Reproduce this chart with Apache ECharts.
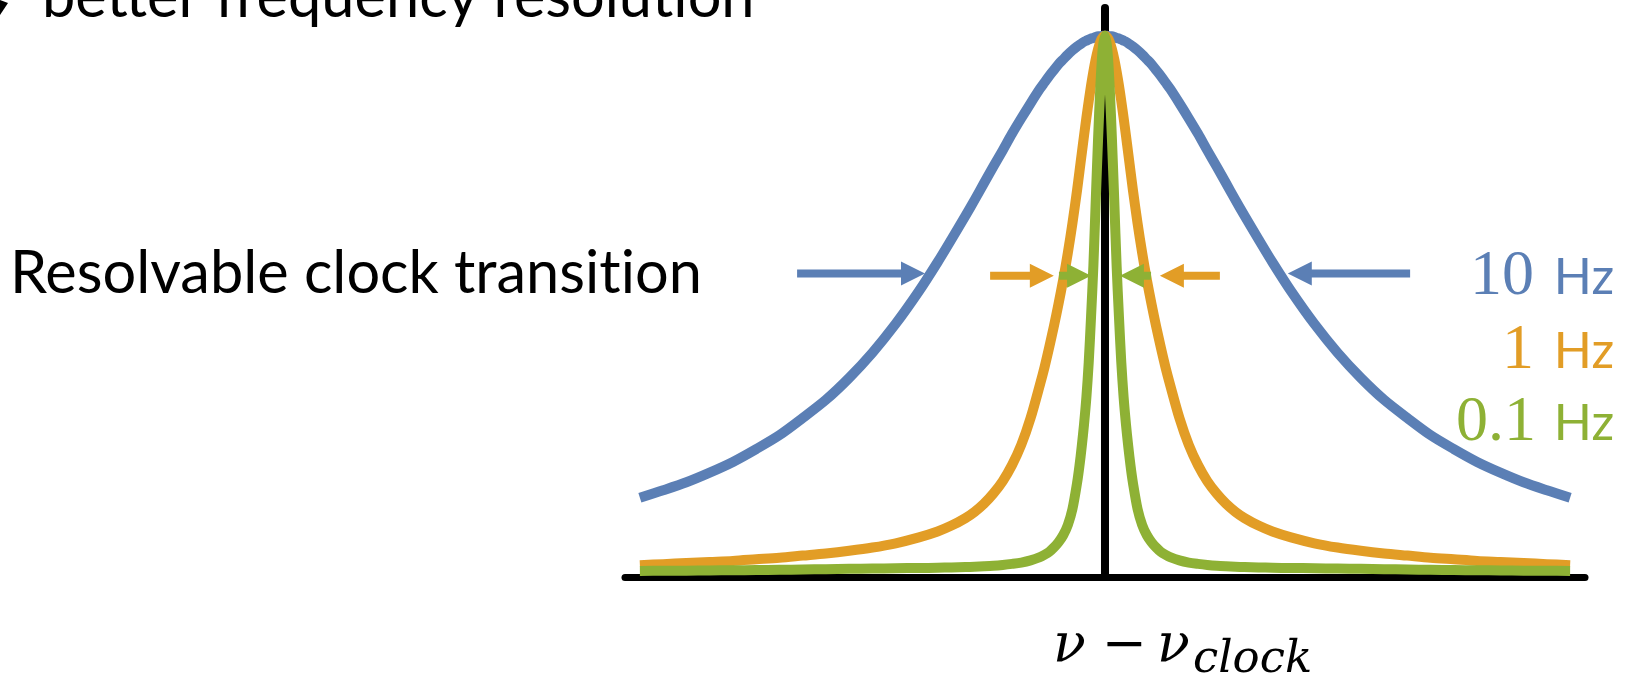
<!DOCTYPE html>
<html>
<head>
<meta charset="utf-8">
<script src="https://cdn.jsdelivr.net/npm/echarts@6/dist/echarts.min.js"></script>
<style>
  html, body { margin: 0; padding: 0; background: #ffffff; }
  #chart { width: 1631px; height: 675px; }
</style>
</head>
<body>
<div id="chart"></div>
<script>
// Half-profile offsets from the clock frequency (arbitrary units, mirrored to both sides)
const offsets = [0, 0.5, 1, 1.5, 2, 2.5, 3, 3.5, 4, 4.5, 5, 5.5, 6, 7, 8, 9, 10, 11, 12, 13, 14, 16, 18, 20, 22, 24, 26, 28, 30, 33, 36, 40, 45, 50, 55, 60, 65, 70, 75, 80, 85, 90, 95, 100];

// Line-shape heights (peak = 100)
const blue10Hz = [100, 100, 99.9, 99.9, 99.8, 99.6, 99.5, 99.3, 99.1, 98.9, 98.6, 98.3, 98.0, 97.3, 96.5, 95.6, 94.7, 93.6, 92.5, 91.3, 90.1, 87.4, 84.6, 81.7, 78.6, 75.6, 72.5, 69.4, 66.4, 62.0, 57.7, 52.3, 46.2, 40.8, 36.1, 32.0, 28.6, 25.4, 22.8, 20.4, 18.4, 16.6, 15.1, 13.7];
const orange1Hz = [100, 99.7, 98.9, 97.5, 95.6, 93.3, 90.7, 87.8, 84.7, 81.4, 78.0, 74.6, 71.2, 65.0, 59.4, 54.4, 49.9, 45.7, 41.8, 38.1, 34.8, 28.6, 23.6, 19.8, 16.8, 14.5, 12.6, 11.1, 9.9, 8.5, 7.4, 6.3, 5.2, 4.4, 3.8, 3.3, 2.9, 2.5, 2.2, 1.9, 1.7, 1.5, 1.3, 1.1];
const green01Hz = [100, 97.5, 90.5, 80.5, 69, 57, 47.5, 39, 32.5, 27.5, 23.3, 19.6, 16.5, 11.6, 8.6, 6.7, 5.4, 4.4, 3.6, 3.05, 2.6, 2.0, 1.6, 1.35, 1.15, 1.0, 0.9, 0.82, 0.75, 0.68, 0.63, 0.58, 0.54, 0.48, 0.42, 0.36, 0.3, 0.25, 0.2, 0.16, 0.12, 0.09, 0.06, 0.04];

// Arrows marking the resolvable width: [tail, tip, height, colour index]
const arrows = [
  [-66.2, -38.7, 55.6, 0],
  [65.6, 39.3, 55.6, 0],
  [-24.7, -11.0, 55.2, 1],
  [24.7, 11.8, 55.2, 1],
  [-9.9, -3.0, 55.2, 2],
  [9.9, 3.2, 55.2, 2]
];

const seriesNames = ['10 Hz', '1 Hz', '0.1 Hz'];
const colors = ['#5B7FB5', '#E29D26', '#8EB135'];

function mirror(vals) {
  const pts = [];
  for (let i = offsets.length - 1; i > 0; i--) pts.push([-offsets[i], vals[i]]);
  for (let i = 0; i < offsets.length; i++) pts.push([offsets[i], vals[i]]);
  return pts;
}

const chart = echarts.init(document.getElementById('chart'), null, { renderer: 'canvas' });

const lineSeries = [blue10Hz, orange1Hz, green01Hz].map((vals, i) => ({
  name: seriesNames[i],
  type: 'line',
  data: mirror(vals),
  smooth: 0.3,
  showSymbol: false,
  symbol: 'none',
  z: 3 + i,
  lineStyle: { color: colors[i], width: 10, cap: 'butt', join: 'round' },
  silent: true
}));

const arrowSeries = {
  type: 'custom',
  z: 10,
  silent: true,
  clip: false,
  data: arrows,
  renderItem: function (params, api) {
    const p0 = api.coord([api.value(0), api.value(2)]);
    const p1 = api.coord([api.value(1), api.value(2)]);
    const dir = p1[0] > p0[0] ? 1 : -1;
    const headLen = 24, headHalf = 12, shaftHalf = 4;
    const y = p0[1];
    const hx = p1[0] - dir * headLen;
    return {
      type: 'polygon',
      shape: { points: [
        [p0[0], y - shaftHalf], [hx, y - shaftHalf], [hx, y - headHalf],
        [p1[0], y], [hx, y + headHalf], [hx, y + shaftHalf], [p0[0], y + shaftHalf]
      ] },
      style: { fill: colors[api.value(3)] }
    };
  }
};

const ZWNJ = '\u200C';

const option = {
  animation: false,
  backgroundColor: '#ffffff',
  grid: { left: 625, right: 46, top: 8, bottom: 98 },
  xAxis: {
    type: 'value',
    min: -103.2,
    max: 103.2,
    axisLine: { show: true, onZero: false, lineStyle: { color: '#000000', width: 7 } },
    axisTick: { show: false },
    axisLabel: { show: false },
    splitLine: { show: false }
  },
  yAxis: {
    type: 'value',
    min: -1.1,
    max: 105.2,
    axisLine: { show: true, onZero: true, lineStyle: { color: '#000000', width: 8 } },
    axisTick: { show: false },
    axisLabel: { show: false },
    splitLine: { show: false }
  },
  series: lineSeries.concat([arrowSeries]),
  graphic: [
    { type: 'polygon', shape: { points: [[0, 0], [8, 3], [0, 15]] }, style: { fill: '#000' } },
    { type: 'text', x: 42, y: -2, style: { text: 'better frequency resolut' + ZWNJ + 'ion', font: '59.5px Lato', fill: '#000', verticalAlign: 'middle', align: 'left' } },
    { type: 'text', x: 10, y: 274, style: { text: 'Resolvable clock transit' + ZWNJ + 'ion', font: '59.5px Lato', fill: '#000', verticalAlign: 'middle', align: 'left' } },

    { type: 'text', x: 1534, y: 277, style: { text: '10', font: '64px "Liberation Serif"', fill: colors[0], verticalAlign: 'middle', align: 'right' } },
    { type: 'text', x: 1614, y: 278, style: { text: 'Hz', font: '50px Lato', fill: colors[0], verticalAlign: 'middle', align: 'right' } },
    { type: 'text', x: 1534, y: 351, style: { text: '1', font: '64px "Liberation Serif"', fill: colors[1], verticalAlign: 'middle', align: 'right' } },
    { type: 'text', x: 1614, y: 352, style: { text: 'Hz', font: '50px Lato', fill: colors[1], verticalAlign: 'middle', align: 'right' } },
    { type: 'text', x: 1536, y: 423, style: { text: '0.1', font: '64px "Liberation Serif"', fill: colors[2], verticalAlign: 'middle', align: 'right' } },
    { type: 'text', x: 1614, y: 424, style: { text: 'Hz', font: '50px Lato', fill: colors[2], verticalAlign: 'middle', align: 'right' } },

    { type: 'text', x: 1053, y: 647, style: { text: 'ν', font: 'italic 54px "DejaVu Serif"', fill: '#000', verticalAlign: 'middle', align: 'left' } },
    { type: 'text', x: 1124, y: 647, style: { text: '−', font: '54px "DejaVu Serif"', fill: '#000', verticalAlign: 'middle', align: 'center' } },
    { type: 'text', x: 1157, y: 647, style: { text: 'ν', font: 'italic 54px "DejaVu Serif"', fill: '#000', verticalAlign: 'middle', align: 'left' } },
    { type: 'text', x: 1193, y: 660, style: { text: 'clock', font: 'italic 45px "DejaVu Serif"', fill: '#000', verticalAlign: 'middle', align: 'left' } }
  ]
};

chart.setOption(option);
</script>
</body>
</html>
